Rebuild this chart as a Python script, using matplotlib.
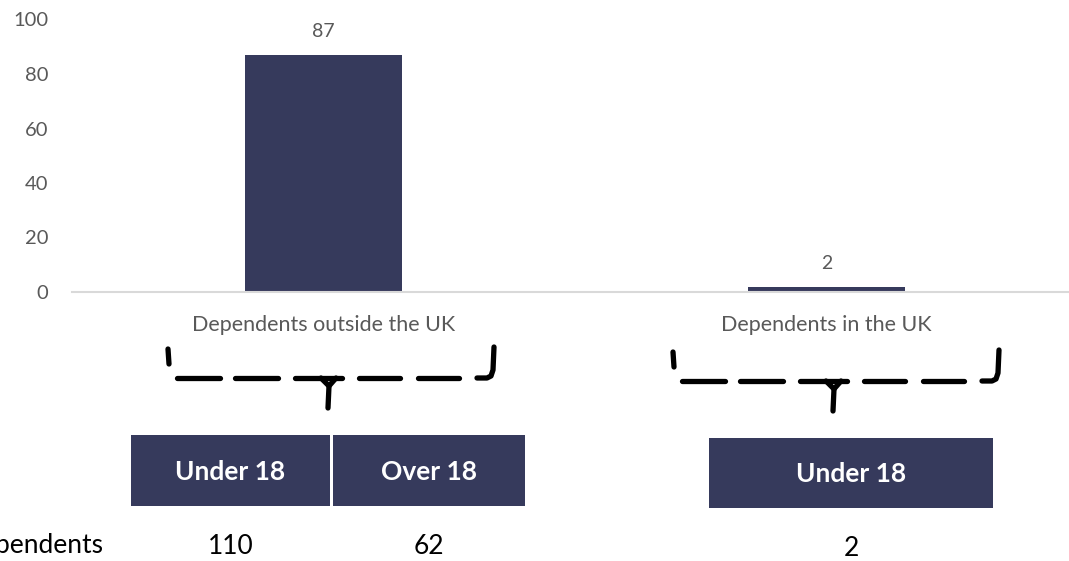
import matplotlib
matplotlib.use("Agg")
import matplotlib.pyplot as plt
from matplotlib.patches import Rectangle
from matplotlib.lines import Line2D

# Chart data
categories = ["Dependents outside the UK", "Dependents in the UK"]
values = [87, 2]
y_ticks = [0, 20, 40, 60, 80, 100]

# Breakdown table below each category
group_labels = [["Under 18", "Over 18"], ["Under 18"]]
group_counts = [[110, 62], [2]]
row_label = "Dependents"

W, H = 1069, 561
NAVY = "#363A5C"
GREY = "#595959"

plt.rcParams["font.family"] = ["Lato", "DejaVu Sans"]

fig = plt.figure(figsize=(W / 100, H / 100), dpi=100)


def fx(x):
    return x / W


def fy(y):
    return 1 - y / H


# Plot area in pixels: left 72, right 1078, top 19.5, bottom 292
left, right, top, bottom = 72, 1078, 19.5, 292
ax = fig.add_axes([fx(left), fy(bottom), fx(right - left), (bottom - top) / H])

x = list(range(len(categories)))
bars = ax.bar(x, values, width=0.312, color=NAVY, zorder=2)
ax.set_xlim(-0.5, len(categories) - 0.5)
ax.set_ylim(0, 100)
ax.set_yticks(y_ticks)
ax.set_xticks(x)
ax.set_xticklabels(categories)
ax.tick_params(axis="y", length=0, pad=17, labelsize=14.5, labelcolor=GREY)
ax.tick_params(axis="x", length=0, pad=16.5, labelsize=15.5, labelcolor=GREY)
for s in ["left", "right", "top"]:
    ax.spines[s].set_visible(False)
ax.spines["bottom"].set_color("#D9D9D9")
ax.spines["bottom"].set_linewidth(1.5)
ax.patch.set_alpha(0)

for b, v in zip(bars, values):
    ax.annotate(str(v), (b.get_x() + b.get_width() / 2, v), xytext=(0, 10.5),
                textcoords="offset points", ha="center", va="bottom",
                fontsize=14, color=GREY)

# Hand-drawn braces linking each bar to its breakdown
fig.canvas.draw()
centers = [fig.transFigure.inverted().transform(ax.transData.transform((i, 0)))[0] * W
           for i in x]


def brace(cx, y0):
    segs = [
        [(cx - 159, y0 - 29), (cx - 158, y0 - 14)],
        [(cx - 150, y0), (cx - 107, y0)],
        [(cx - 92, y0), (cx - 49, y0)],
        [(cx - 32, y0), (cx + 15, y0)],
        [(cx - 6, y0), (cx + 2, y0 + 8), (cx + 9, y0)],
        [(cx + 2, y0 + 8), (cx + 1, y0 + 30)],
        [(cx + 32, y0), (cx + 73, y0)],
        [(cx + 91, y0), (cx + 132, y0)],
        [(cx + 150, y0), (cx + 160, y0), (cx + 164, y0 - 2), (cx + 166, y0 - 8),
         (cx + 167, y0 - 31)],
    ]
    for seg in segs:
        xs = [fx(p[0]) for p in seg]
        ys = [fy(p[1]) for p in seg]
        fig.add_artist(Line2D(xs, ys, transform=fig.transFigure, color="black",
                              lw=3.8, solid_capstyle="round",
                              solid_joinstyle="round"))


brace(centers[0] + 3.5, 378)
brace(centers[1] + 5.5, 381)

# Breakdown boxes (pixel extents: x0, x1, y0, y1)
boxes = [
    [(131, 330, 435, 506), (333, 525, 435, 506)],
    [(709, 993, 438, 508)],
]
count_y = [546, 549]

for gi, group in enumerate(boxes):
    for bi, (x0, x1, y0, y1) in enumerate(group):
        fig.add_artist(Rectangle((fx(x0), fy(y1)), fx(x1 - x0), (y1 - y0) / H,
                                 transform=fig.transFigure, facecolor=NAVY,
                                 edgecolor="none"))
        cxb = (x0 + x1) / 2
        fig.text(fx(cxb), fy((y0 + y1) / 2 + 1), group_labels[gi][bi],
                 ha="center", va="center", color="white", fontsize=19,
                 fontweight="bold")
        fig.text(fx(cxb), fy(count_y[gi]), str(group_counts[gi][bi]),
                 ha="center", va="center", color="black", fontsize=19)

fig.text(fx(104), fy(546), row_label, ha="right", va="center", color="black",
         fontsize=19)

fig.savefig("out.png", dpi=100)
